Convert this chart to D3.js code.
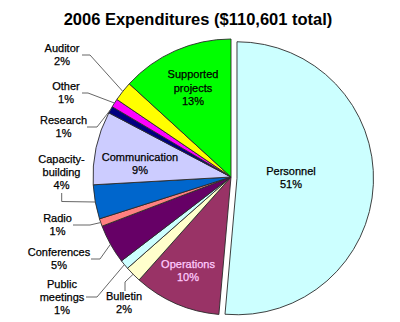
<!DOCTYPE html>
<html>
<head>
<meta charset="utf-8">
<script src="https://cdn.jsdelivr.net/npm/d3@7"></script>
<style>
  html, body { margin: 0; padding: 0; background: #fff; }
  svg { display: block; }
  text { font-family: Arial, "Liberation Sans", sans-serif; }
</style>
</head>
<body>
<svg id="chart" width="400" height="322"></svg>
<script>
// ---- data ----
const title = "2006 Expenditures ($110,601 total)";
const categories = ["Personnel", "Operations", "Bulletin", "Public meetings", "Conferences", "Radio",
  "Capacity-building", "Communication", "Research", "Other", "Auditor", "Supported projects"];
const values = [51.4, 10.2, 1.9, 1.1, 4.6, 0.9, 4.0, 8.6, 0.8, 1.0, 2.3, 13.2];
const labelLines = [["Personnel"], ["Operations"], ["Bulletin"], ["Public", "meetings"], ["Conferences"], ["Radio"],
  ["Capacity-", "building"], ["Communication"], ["Research"], ["Other"], ["Auditor"], ["Supported", "projects"]];

// ---- styles ----
const colors = ["#CCFFFF", "#993366", "#FFFFCC", "#CCFFFF", "#660066", "#FF8080",
  "#0066CC", "#CCCCFF", "#000080", "#FF00FF", "#FFFF00", "#00FF00"];
const explodedIndex = 0;

// ---- layout ----
const W = 400, H = 322;
const cx = 231, cy = 177, R = 138, explode = 6, explodedR = 136.5;
const lineH = 13;
const labelLayout = {
  "Personnel": { x: 291, y: 175, inside: true },
  "Operations": { x: 188, y: 268, inside: true, color: "#FFCCFF" },
  "Communication": { x: 140, y: 161, inside: true },
  "Supported projects": { x: 193, y: 78, inside: true, lh: 13.5 },
  "Auditor": { x: 62, y: 52, leader: [[82, 55], [90, 55]] },
  "Other": { x: 66, y: 90, leader: [[82, 93], [88, 93]] },
  "Research": { x: 63.5, y: 123.5, leader: [[87, 127], [97, 127]] },
  "Capacity-building": { x: 61.5, y: 162.5, leader: [[61.7, 193], [61.7, 201.5]] },
  "Radio": { x: 57.5, y: 221.5, leader: [[73, 225], [90, 225]] },
  "Conferences": { x: 59, y: 256, leader: [[91, 259], [100, 259]] },
  "Public meetings": { x: 62, y: 288, leader: [[86, 297], [97, 297]] },
  "Bulletin": { x: 124, y: 300, leader: [[125, 291], [125, 282]] }
};

const svg = d3.select("#chart");

svg.append("text")
  .attr("x", 198).attr("y", 25)
  .attr("text-anchor", "middle")
  .attr("font-size", "16.5px").attr("font-weight", "bold")
  .attr("fill", "#000")
  .text(title);

const data = categories.map((c, i) => ({ name: c, value: values[i], i }));
const pie = d3.pie().sort(null).value(d => d.value)
  .startAngle(0).endAngle(2 * Math.PI);
const arcs = pie(data);
const arcGen = d3.arc().innerRadius(0).outerRadius(d => d.index === explodedIndex ? explodedR : R);

const g = svg.append("g").attr("transform", `translate(${cx},${cy})`);

g.selectAll("path.slice")
  .data(arcs)
  .join("path")
  .attr("class", "slice")
  .attr("transform", d => {
    if (d.index !== explodedIndex) return null;
    const m = (d.startAngle + d.endAngle) / 2;
    return `translate(${explode * Math.sin(m)},${-explode * Math.cos(m) + 1})`;
  })
  .attr("d", arcGen)
  .attr("fill", (d, i) => colors[i])
  .attr("stroke", "#2a2a2a")
  .attr("stroke-width", 0.9)
  .attr("stroke-linejoin", "round");

// leader lines
arcs.forEach((a, i) => {
  const L = labelLayout[a.data.name];
  if (!L || L.inside) return;
  const m = (a.startAngle + a.endAngle) / 2;
  const ex = cx + R * Math.sin(m), ey = cy - R * Math.cos(m);
  const pts = L.leader.concat([[ex, ey]]);
  svg.append("path")
    .attr("d", d3.line()(pts))
    .attr("fill", "none")
    .attr("stroke", "#555")
    .attr("stroke-width", 0.9);
});

// labels
arcs.forEach((a, i) => {
  const L = labelLayout[a.data.name];
  const lines = labelLines[i].concat([Math.round(values[i]) + "%"]);
  const lh = L.lh || lineH;
  const t = svg.append("text")
    .attr("text-anchor", "middle")
    .attr("font-size", "11px")
    .attr("fill", L.color || "#000")
    .attr("stroke", L.color || "#000")
    .attr("stroke-width", 0.25);
  lines.forEach((s, k) => {
    t.append("tspan").attr("x", L.x).attr("y", L.y + k * lh).text(s);
  });
});
</script>
</body>
</html>
